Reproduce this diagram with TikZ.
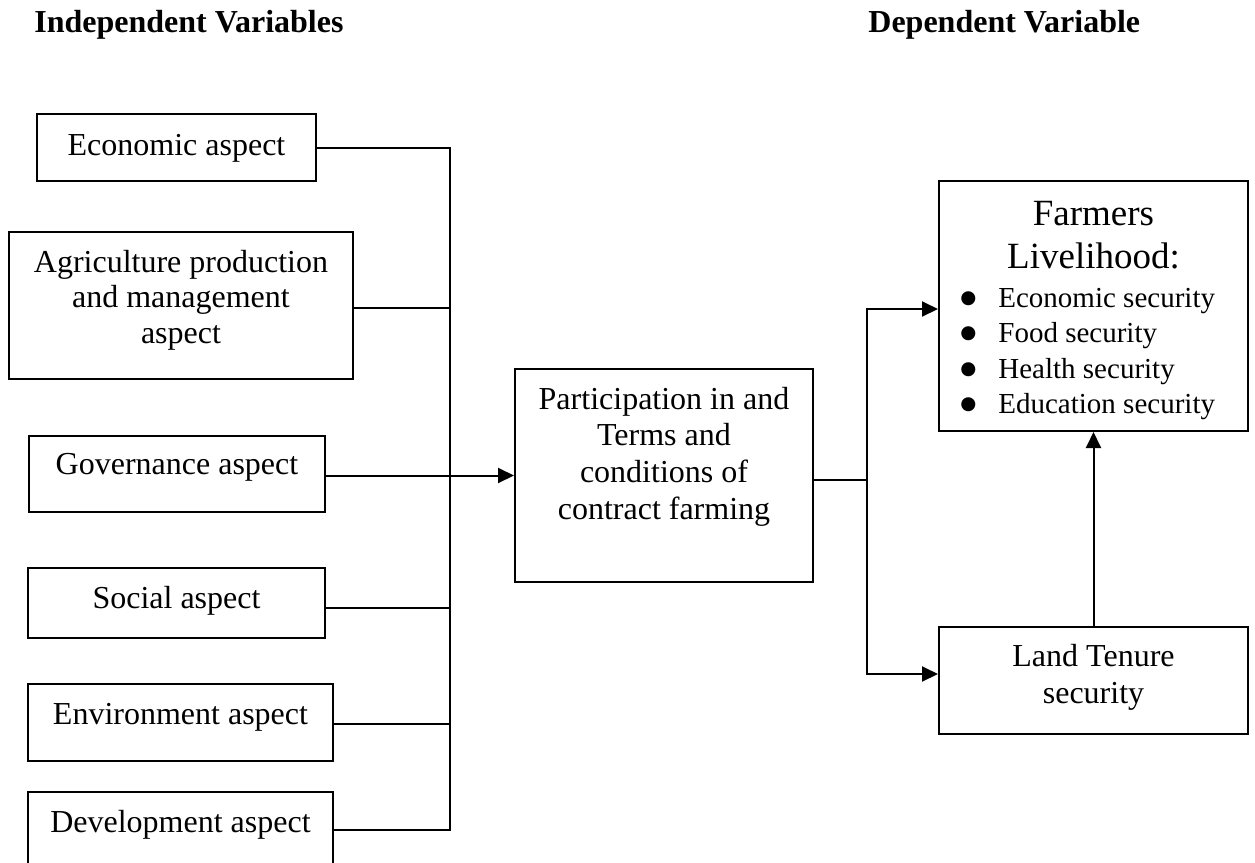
\documentclass[tikz,border=0pt]{standalone}
\usepackage{fontspec}
\setmainfont{Liberation Serif}
\newfontfamily\symfont{DejaVu Sans}
\usetikzlibrary{arrows.meta}
\newcommand{\bigbul}{\makebox[20pt][l]{\hspace{1pt}\raisebox{1.6pt}{\symfont\fontsize{9.2}{11}\selectfont ●}}}
\begin{document}
\begin{tikzpicture}[x=0.5pt,y=-0.5pt,
  box/.style={draw, line width=1pt, inner sep=0pt},
  txt/.style={inner sep=0pt, font=\fontsize{16}{18}\selectfont},
  mtxt/.style={inner sep=0pt, align=center, font=\fontsize{16}{#1}\selectfont},
  item/.style={inner sep=0pt, anchor=base west, font=\fontsize{14.5}{17}\selectfont},
  head/.style={inner sep=0pt, anchor=base west, font=\bfseries\fontsize{16}{18}\selectfont},
  conn/.style={line width=1pt},
  arr/.style={conn, -{Triangle[length=8pt,width=7.5pt]}}]
\clip (0,0) rectangle (1255,863);

% headings
\node[head] (indep) at (34,32) {Independent Variables};
\node[head] (dep) at (868,32) {Dependent Variable};

% left boxes
\node[box, minimum width=139.5pt, minimum height=33.5pt] (econ) at (176.5,147.5) {};
\node[box, minimum width=172pt, minimum height=73.5pt] (agri) at (181,305.5) {};
\node[box, minimum width=148pt, minimum height=38pt] (gov) at (177,474) {};
\node[box, minimum width=148.5pt, minimum height=35pt] (soc) at (176.5,603) {};
\node[box, minimum width=152.5pt, minimum height=38.5pt] (env) at (180.5,722.5) {};
\node[box, minimum width=152.5pt, minimum height=54pt] (dev) at (180.5,846) {};

\node[txt, anchor=base] (econT) at (176.5,155) {Economic aspect};
\node[mtxt=17.8] (agriT) at (181,300) {Agriculture production\\and management\\aspect};
\node[txt, anchor=base] (govT) at (177,474) {Governance aspect};
\node[txt, anchor=base] (socT) at (176.5,608) {Social aspect};
\node[txt, anchor=base] (envT) at (180.5,724) {Environment aspect};
\node[txt, anchor=base] (devT) at (180.5,832) {Development aspect};

% central box
\node[box, minimum width=149pt, minimum height=106.5pt] (part) at (664,475.5) {};
\node[mtxt=18.3] (partT) at (664,456.5) {Participation in and\\Terms and\\conditions of\\contract farming};

% right boxes
\node[box, minimum width=154.5pt, minimum height=125pt] (farm) at (1093.5,306) {};
\node[inner sep=0pt, align=center, font=\fontsize{18.5}{21.5}\selectfont] (farmT) at (1093.5,235) {Farmers\\Livelihood:};
\node[item] (i1) at (958,307) {\bigbul Economic security};
\node[item] (i2) at (958,342) {\bigbul Food security};
\node[item] (i3) at (958,378) {\bigbul Health security};
\node[item] (i4) at (958,413) {\bigbul Education security};

\node[box, minimum width=154.5pt, minimum height=53.5pt] (land) at (1093.5,680.5) {};
\node[mtxt=18.5] (landT) at (1093.5,677) {Land Tenure\\security};

% connectors, left bus
\coordinate (busTop) at (450,147.5);
\coordinate (busBot) at (450,830);
\draw[conn] (econ.east) -- (busTop) -- (busBot) -- ([yshift=8pt]dev.east);
\draw[conn] ([yshift=-1.25pt]agri.east) -- ([yshift=-1.25pt]agri.east -| busTop);
\draw[conn] ([yshift=-2.5pt]soc.east) -- ([yshift=-2.5pt]soc.east -| busTop);
\draw[conn] ([yshift=-0.75pt]env.east) -- ([yshift=-0.75pt]env.east -| busTop);
\draw[arr] (gov.east |- part.west) -- (part.west);

% right side
\coordinate (split) at (867,480);
\draw[conn] ([yshift=-2.25pt]part.east) -- (split);
\draw[arr] (split) |- ([yshift=-1.5pt]farm.west);
\draw[arr] (split) |- ([yshift=3.25pt]land.west);
\draw[arr] (land.north) -- (farm.south);
\end{tikzpicture}
\end{document}
